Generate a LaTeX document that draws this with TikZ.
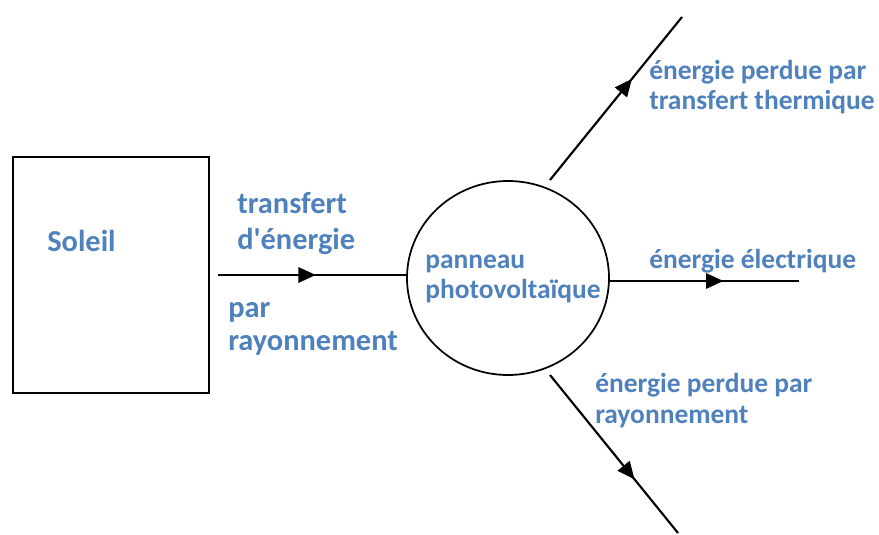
\documentclass[tikz,border=0pt]{standalone}
\usepackage{fontspec}
\setmainfont{Carlito}
\usepackage{xcolor}
\usetikzlibrary{calc, positioning}
\usetikzlibrary{arrows.meta}
\usetikzlibrary{decorations.markings}
\usetikzlibrary{shapes.geometric}

\definecolor{textblue}{RGB}{79,129,189}

\tikzset{
  label big/.style={anchor=base west, inner sep=0pt, text=textblue, font=\fontsize{22.8}{27}\selectfont\bfseries},
  label small/.style={anchor=base west, inner sep=0pt, text=textblue, font=\fontsize{20.6}{25}\selectfont\bfseries},
  flow/.style={line width=1.6pt, postaction={decorate},
    decoration={markings, mark=at position #1 with {\arrow{Triangle[length=13pt,width=11.5pt]}}}},
}

\begin{document}
\begin{tikzpicture}[x=0.75pt, y=-0.75pt]
\useasboundingbox (0,0) rectangle (879,535);

\node[draw, line width=1.3pt, minimum width=196*0.75pt, minimum height=236*0.75pt, inner sep=0pt] (soleil) at (111,275) {};
\node[draw, ellipse, line width=1.3pt, minimum width=202*0.75pt, minimum height=194*0.75pt, inner sep=0pt] (panneau) at (508,278) {};

\coordinate (in start) at ($(soleil.east)+(8,0)$);
\coordinate (out elec) at (799,281);
\coordinate (up start) at (550,180);
\coordinate (up end) at (682,17);
\coordinate (down start) at (550,375);
\coordinate (down end) at (678,533);

\draw[flow=0.52] (in start) -- (in start -| panneau.west);
\draw[flow=0.6] (panneau.east |- out elec) -- (out elec);
\draw[flow=0.62] (up start) -- (up end);
\draw[flow=0.66] (down start) -- (down end);

\node[label big] (txt soleil) at (47,251) {Soleil};
\node[label big] (txt transfert) at (237,214) {transfert};
\node[label big] (txt energie) at (237,249) {d\textquotesingle énergie};
\node[label big] (txt par) at (228,317) {par};
\node[label big] (txt rayon) at (228,350) {rayonnement};

\node[label small] (txt panneau) at (425,268) {panneau};
\node[label small] (txt photo) at (425,298) {photovoltaïque};

\node[label small] (txt elec) at (649,268) {énergie électrique};
\node[label small] (txt perdue) at (649,80) {énergie perdue par};
\node[label small] (txt thermique) at (649,110) {transfert thermique};
\node[label small] (txt perdue2) at (595,392) {énergie perdue par};
\node[label small] (txt rayon2) at (595,423) {rayonnement};
\end{tikzpicture}
\end{document}
